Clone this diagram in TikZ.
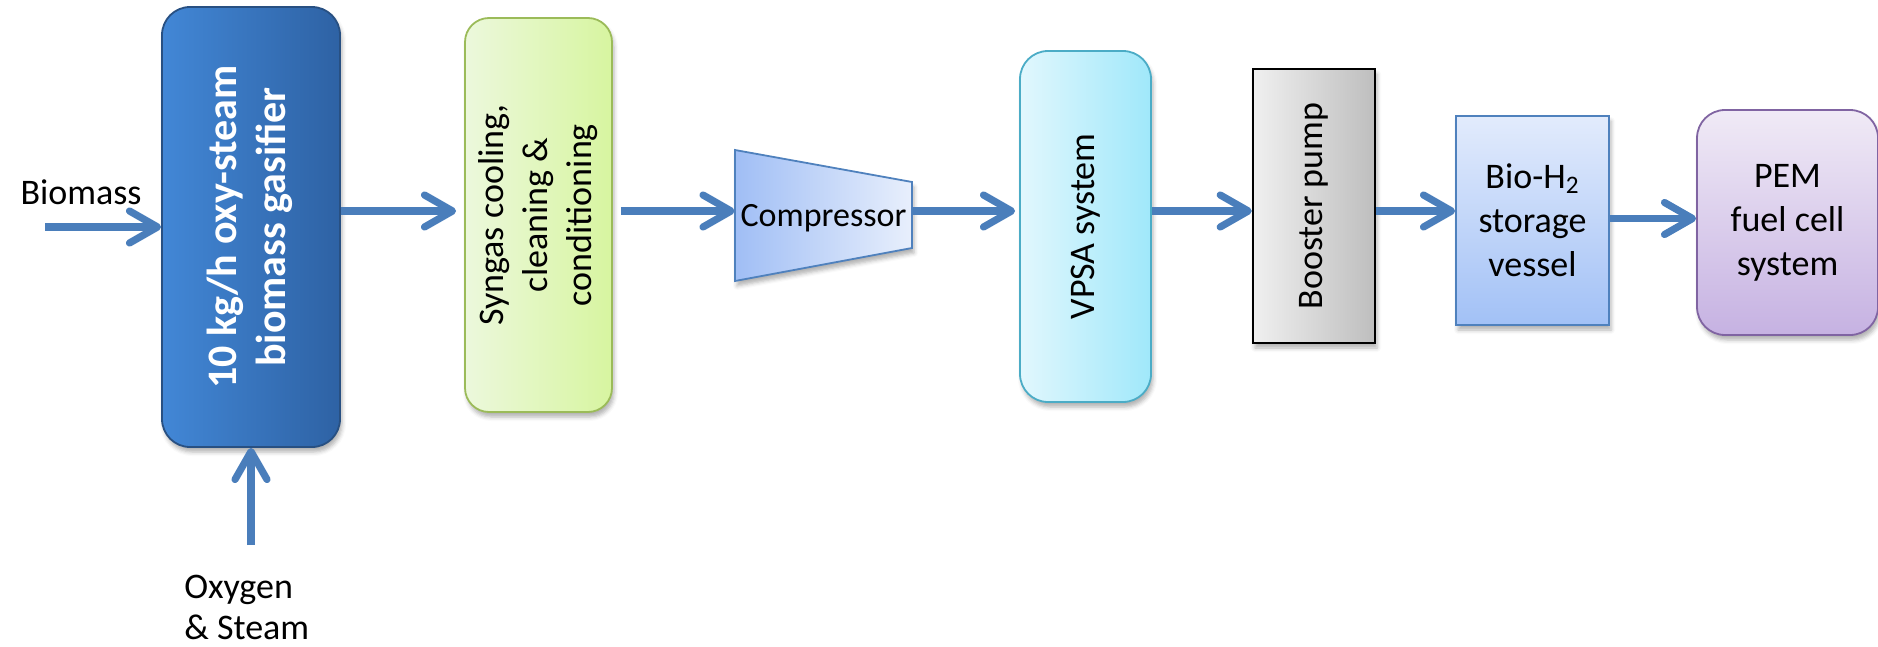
\documentclass[tikz,border=0pt]{standalone}
\usepackage{fontspec}
\setmainfont{Carlito}
\usepackage{graphicx}
\usetikzlibrary{arrows.meta, shadows.blur}
\definecolor{h2arrow}{RGB}{74, 126, 187}
\definecolor{gasleft}{RGB}{66, 135, 214}
\definecolor{gasright}{RGB}{46, 98, 164}
\definecolor{gasedge}{RGB}{40, 80, 130}
\definecolor{synleft}{RGB}{236, 248, 220}
\definecolor{synright}{RGB}{215, 245, 160}
\definecolor{synedge}{RGB}{155, 187, 89}
\definecolor{compleft}{RGB}{160, 190, 245}
\definecolor{compright}{RGB}{232, 239, 252}
\definecolor{compedge}{RGB}{79, 129, 189}
\definecolor{vpsaleft}{RGB}{225, 247, 253}
\definecolor{vpsaright}{RGB}{160, 232, 250}
\definecolor{vpsaedge}{RGB}{75, 172, 198}
\definecolor{pumpleft}{RGB}{240, 240, 240}
\definecolor{pumpright}{RGB}{190, 190, 190}
\definecolor{storetop}{RGB}{226, 235, 252}
\definecolor{storebot}{RGB}{162, 193, 246}
\definecolor{pemtop}{RGB}{240, 234, 246}
\definecolor{pembot}{RGB}{198, 178, 226}
\definecolor{pemedge}{RGB}{128, 100, 162}

% rotated multi-line label, read bottom to top
\newcommand{\vtext}[1]{\rotatebox{90}{\begin{tabular}{@{}c@{}}#1\end{tabular}}}

\begin{document}
\begin{tikzpicture}[x=0.5pt, y=-0.5pt, font=\fontsize{18}{22}\selectfont,
    every node/.style={inner sep=0pt, align=center},
    unit/.style={line width=0.9pt,
                 blur shadow={shadow xshift=1pt, shadow yshift=-2.5pt,
                              shadow blur radius=2pt, shadow opacity=30}},
    flow/.style={line width=3.6pt, h2arrow,
                 -{Straight Barb[length=14pt, width=16pt, round]}}]
  \useasboundingbox (0,0) rectangle (1878,647);

  \node[unit, rounded corners=14pt, left color=gasleft, right color=gasright, draw=gasedge,
        minimum width=89pt, minimum height=220pt, text=white,
        font=\fontsize{21}{24.5}\selectfont\bfseries] (gas) at (251,227)
        {\vtext{10 kg/h oxy-steam\\biomass gasifier}};
  \node[unit, rounded corners=12pt, left color=synleft, right color=synright, draw=synedge,
        minimum width=73.5pt, minimum height=197pt] (syn) at (538.5,215)
        {\vtext{Syngas cooling,\\cleaning \&\\conditioning}};

  % compressor drawn as a trapezoid
  \path[unit, left color=compleft, right color=compright, draw=compedge]
        (735,150) -- (912,182) -- (912,248) -- (735,281) -- cycle;
  \node[minimum width=88.5pt, minimum height=65.5pt,
        font=\fontsize{17}{20}\selectfont] (comp) at (823.5,218) {Compressor};

  \node[unit, rounded corners=14pt, left color=vpsaleft, right color=vpsaright, draw=vpsaedge,
        minimum width=65.5pt, minimum height=175.5pt] (vpsa) at (1085.5,226.5)
        {\vtext{VPSA system}};
  \node[unit, left color=pumpleft, right color=pumpright, draw=black, line width=1.2pt,
        minimum width=61pt, minimum height=137pt] (boost) at (1314,206)
        {\vtext{Booster pump}};
  \node[unit, top color=storetop, bottom color=storebot, draw=compedge,
        minimum width=76.5pt, minimum height=104.5pt] (store) at (1532.5,220.5)
        {Bio-H\textsubscript{2}\\storage\\vessel};
  \node[unit, rounded corners=14pt, top color=pemtop, bottom color=pembot, draw=pemedge,
        minimum width=90.5pt, minimum height=112.5pt] (pem) at (1787.5,222.5)
        {PEM\\fuel cell\\system};

  % feeds
  \node (biolab) at (81,192) {Biomass};
  \node[anchor=north west, align=left, font=\fontsize{18}{20.5}\selectfont] (oxlab)
        at (184,575) {Oxygen\\\& Steam};
  \coordinate (bioin) at (45,227);
  \coordinate (oxin) at (251,545);
  \coordinate (main) at (0,211);

  \draw[flow] (bioin) -- (gas.west);
  \draw[flow] (oxin) -- (gas.south);
  \draw[flow] (gas.east |- main) -- ([xshift=-4pt]syn.west |- main);
  \draw[flow] ([xshift=4pt]syn.east |- main) -- (comp.west |- main);
  \draw[flow] (comp.east |- main) -- ([xshift=-2pt]vpsa.west |- main);
  \draw[flow] (vpsa.east |- main) -- (boost.west |- main);
  \draw[flow] (boost.east |- main) -- (store.west |- main);
  \draw[flow] ([yshift=1pt]store.east) -- ([yshift=1pt]store.east -| pem.west);
\end{tikzpicture}
\end{document}
